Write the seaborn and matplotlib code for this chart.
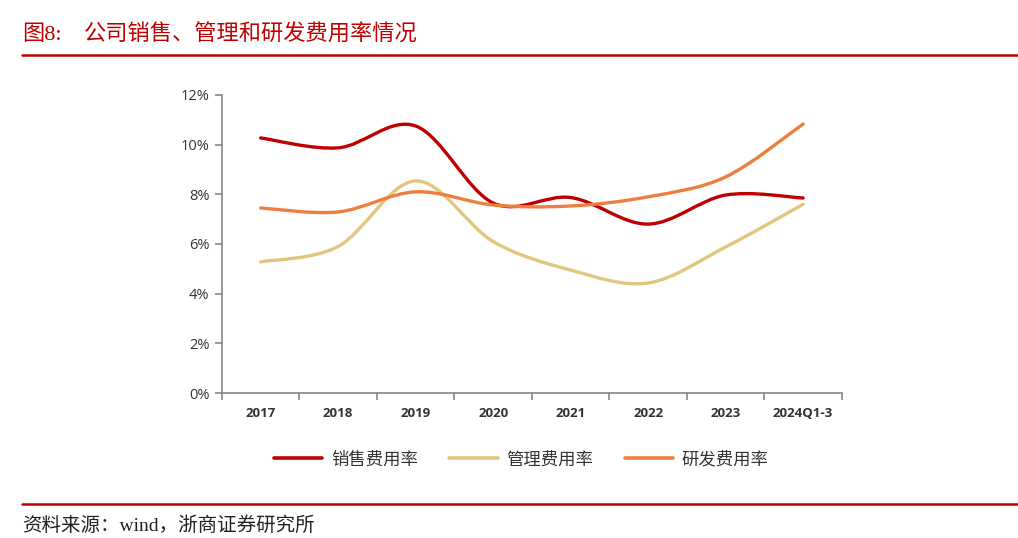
import matplotlib
matplotlib.use("Agg")
import matplotlib.pyplot as plt
import seaborn as sns
import numpy as np
from matplotlib.path import Path
from matplotlib.patches import PathPatch
from matplotlib.lines import Line2D
from matplotlib.ticker import FuncFormatter, FixedLocator

years = ['2017', '2018', '2019', '2020', '2021', '2022', '2023', '2024Q1-3']
xiaoshou = [10.27, 9.87, 10.75, 7.65, 7.87, 6.8, 7.97, 7.85]   # 销售费用率 %
guanli = [5.28, 5.9, 8.54, 6.1, 4.95, 4.43, 5.88, 7.6]         # 管理费用率 %
yanfa = [7.45, 7.29, 8.1, 7.57, 7.53, 7.9, 8.7, 10.83]         # 研发费用率 %

names = ['销售费用率', '管理费用率', '研发费用率']
colors = ['#C00000', '#E2C67C', '#EE7E3E']

sns.set_style("white")
plt.rcParams['font.family'] = ['Open Sans', 'Noto Sans CJK SC', 'DejaVu Sans']

fig = plt.figure(figsize=(10.18, 5.38), dpi=100)
ax = fig.add_axes([0.218, 0.2695, 0.609, 0.554])


def smooth_path(xs, ys):
    # 类似 Excel 平滑线: 三次贝塞尔
    pts = np.column_stack([xs, ys])
    n = len(pts)
    verts = [pts[0]]
    codes = [Path.MOVETO]
    for i in range(n - 1):
        p0 = pts[i - 1] if i > 0 else pts[i]
        p1 = pts[i]
        p2 = pts[i + 1]
        p3 = pts[i + 2] if i + 2 < n else pts[i + 1]
        c1 = p1 + (p2 - p0) / 6
        c2 = p2 - (p3 - p1) / 6
        verts += [c1, c2, p2]
        codes += [Path.CURVE4] * 3
    return Path(verts, codes)


x = np.arange(len(years))
handles = []
for vals, c, nm in zip([xiaoshou, guanli, yanfa], colors, names):
    patch = PathPatch(smooth_path(x, vals), facecolor='none', edgecolor=c,
                      lw=2.4, capstyle='round', joinstyle='round')
    ax.add_patch(patch)
    handles.append(Line2D([0], [0], color=c, lw=2.6))

ax.set_xlim(-0.5, len(years) - 0.5)
ax.set_ylim(0, 12)
ax.set_yticks(np.arange(0, 13, 2))
ax.yaxis.set_major_formatter(FuncFormatter(lambda v, p: f'{v:.0f}%'))
ax.set_xticks(x)
ax.set_xticklabels(years)
ax.xaxis.set_minor_locator(FixedLocator(np.arange(-0.5, len(years), 1)))
ax.tick_params(axis='x', which='major', bottom=True, length=0, pad=10, labelsize=9.5,
               colors='#333333')
ax.tick_params(axis='x', which='minor', bottom=True, length=5, width=1.2,
               color='#868686', direction='out')
ax.tick_params(axis='y', left=True, length=5, width=1.2, color='#868686', direction='out',
               labelsize=10.5, labelcolor='#333333', pad=4)
for lab in ax.get_xticklabels():
    lab.set_fontweight('bold')

sns.despine(ax=ax)
for s in ['left', 'bottom']:
    ax.spines[s].set_color('#868686')
    ax.spines[s].set_linewidth(1.2)

leg = fig.legend(handles, names, loc='center', bbox_to_anchor=(0.512, 0.146), ncol=3,
                 frameon=False, handlelength=2.8, columnspacing=1.8, handletextpad=0.5,
                 prop={'family': ['Noto Sans CJK SC'], 'size': 12.5})
for t in leg.get_texts():
    t.set_color('#333333')

serif = ['Liberation Serif', 'Noto Sans CJK SC']
fig.text(0.022, 0.935, '图8:', color='#C00000', fontsize=16, family=serif, va='center')
fig.text(0.082, 0.935, '公司销售、管理和研发费用率情况', color='#C00000',
         fontsize=16, family=serif, va='center')
fig.add_artist(Line2D([0.022, 1.0], [0.897, 0.897], color='#C00000', lw=1.8))
fig.add_artist(Line2D([0.022, 1.0], [0.063, 0.063], color='#C00000', lw=1.8))
fig.text(0.022, 0.023, '资料来源：wind，浙商证券研究所', color='#222222',
         fontsize=14, family=serif, va='center')

fig.savefig('out.png', dpi=100)
